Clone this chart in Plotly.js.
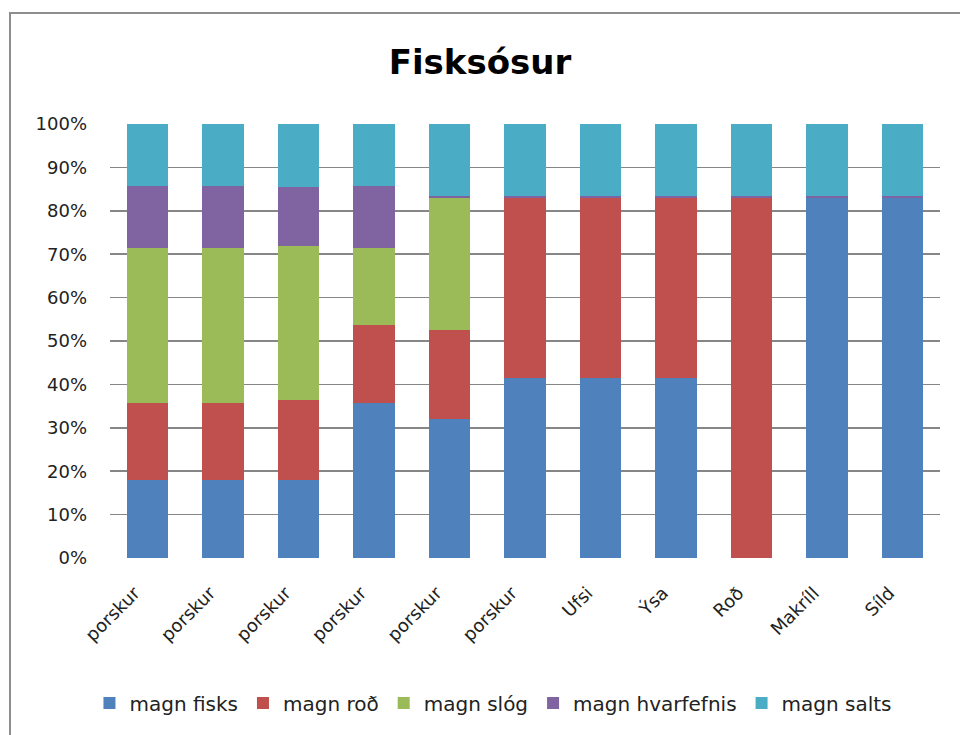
<!DOCTYPE html>
<html>
<head>
<meta charset="utf-8">
<script src="https://cdn.plot.ly/plotly-3.0.1.min.js"></script>
<style>
  html, body { margin: 0; padding: 0; background: #ffffff; overflow: hidden; }
  #frame { position: absolute; left: 9px; top: 12px; width: 1000px; height: 800px;
           border-left: 2px solid #8e8e8e; border-top: 2px solid #8e8e8e; pointer-events: none; }
  #chart { position: absolute; left: 0; top: 0; width: 960px; height: 735px; }
</style>
</head>
<body>
<div id="chart"></div>
<div id="frame"></div>
<script>
// Categories (x tick labels)
const categories = ["porskur", "porskur", "porskur", "porskur", "porskur", "porskur", "Ufsi", "Ýsa", "Roð", "Makríll", "Síld"];

// Series values (percent of each bar)
const magnFisks      = [17.9, 17.9, 17.9, 35.7, 32.1, 41.5, 41.5, 41.5, 0.0, 83.0, 83.0];
const magnRod        = [17.9, 17.9, 18.4, 17.9, 20.4, 41.5, 41.5, 41.5, 83.0, 0.0, 0.0];
const magnSlog       = [35.7, 35.7, 35.7, 17.9, 30.4, 0.0, 0.0, 0.0, 0.0, 0.0, 0.0];
const magnHvarfefnis = [14.3, 14.3, 13.6, 14.3, 0.4, 0.3, 0.3, 0.3, 0.3, 0.3, 0.3];
const magnSalts      = [14.2, 14.2, 14.4, 14.2, 16.7, 16.7, 16.7, 16.7, 16.7, 16.7, 16.7];

const seriesNames = ["magn fisks", "magn roð", "magn slóg", "magn hvarfefnis", "magn salts"];
const seriesColors = ["#4F81BD", "#C0504D", "#9BBB59", "#8064A2", "#4BACC6"];
const seriesValues = [magnFisks, magnRod, magnSlog, magnHvarfefnis, magnSalts];

// Y axis ticks
const yTickVals = [0, 10, 20, 30, 40, 50, 60, 70, 80, 90, 100];
const yTickText = ["0%", "10%", "20%", "30%", "40%", "50%", "60%", "70%", "80%", "90%", "100%"];

const xIdx = categories.map((c, i) => i);

const traces = seriesValues.map((vals, k) => ({
  type: "bar",
  name: seriesNames[k],
  x: xIdx,
  y: vals,
  marker: { color: seriesColors[k], line: { width: 0 } },
  hoverinfo: "name+y"
}));

const FONT = "'DejaVu Sans', 'Liberation Sans', sans-serif";

const layout = {
  width: 960,
  height: 735,
  paper_bgcolor: "rgba(0,0,0,0)",
  plot_bgcolor: "#ffffff",
  margin: { l: 110, r: 20, t: 124, b: 177, pad: 0 },
  barmode: "stack",
  barnorm: "percent",
  bargap: 0.45,
  showlegend: true,
  title: {
    text: "<b>Fisksósur</b>",
    font: { family: FONT, size: 34, color: "#000000" },
    x: 0.5, xanchor: "center",
    y: 0.916, yanchor: "middle", yref: "container"
  },
  xaxis: {
    tickmode: "array",
    tickvals: xIdx,
    ticktext: categories,
    tickangle: -45,
    tickfont: { family: FONT, size: 18, color: "#222222" },
    showgrid: false,
    zeroline: false,
    showline: false,
    ticks: "",
    ticklabelstandoff: 20,
    ticklabelshift: -13,
    range: [-0.5, 10.5]
  },
  yaxis: {
    range: [0, 100],
    tickmode: "array",
    tickvals: yTickVals,
    ticktext: yTickText,
    tickfont: { family: FONT, size: 18, color: "#222222" },
    showgrid: true,
    gridcolor: "#868686",
    gridwidth: 1.5,
    zeroline: false,
    showline: false,
    ticks: "",
    ticklabelstandoff: 22
  },
  legend: {
    orientation: "h",
    x: 0.462, xanchor: "center",
    y: -0.334, yanchor: "middle",
    font: { family: FONT, size: 20, color: "#222222" },
    itemwidth: 30,
    traceorder: "normal",
    bgcolor: "rgba(0,0,0,0)"
  }
};

Plotly.newPlot("chart", traces, layout, { displayModeBar: false, staticPlot: true });
</script>
</body>
</html>
